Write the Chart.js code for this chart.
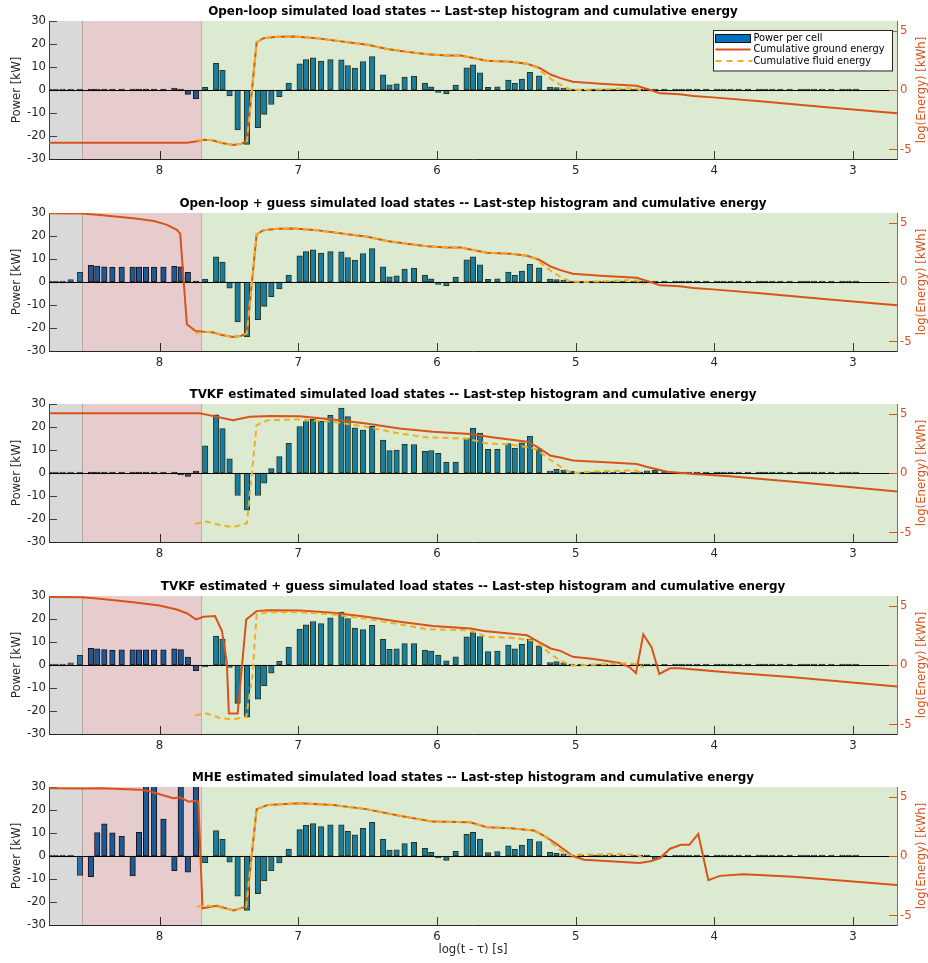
<!DOCTYPE html>
<html>
<head>
<meta charset="utf-8">
<script src="https://cdn.jsdelivr.net/npm/chart.js@4.4.1/dist/chart.umd.min.js"></script>
<style>
  html, body { margin: 0; padding: 0; background: #ffffff; }
  body { width: 928px; height: 963px; position: relative; overflow: hidden; }
  canvas { position: absolute; left: 0; }
</style>
</head>
<body>
<script>
// ---- axis settings -------------------------------------------------------
const timeRange = [2.683, 8.797];          // log10(t - tau), drawn decreasing to the right
const timeTicks = [3, 4, 5, 6, 7, 8];
const powerTicks = [-30, -20, -10, 0, 10, 20, 30];
const energyTicks = [-5, 0, 5];

// phases along the time axis: edges and fills
const phaseEdges = [8.797, 8.56, 7.70, 2.683];
const phaseFills = ['rgba(128,128,128,0.30)', 'rgba(130,0,0,0.20)', 'rgba(110,165,60,0.23)'];

// ---- cell centres (log10 of elapsed time) --------------------------------
const cellLogT = [
  8.796, 8.750, 8.699, 8.641, 8.574,
  8.495, 8.449, 8.398, 8.340, 8.273,
  8.194, 8.148, 8.097, 8.039, 7.972,
  7.893, 7.847, 7.796, 7.738, 7.671,
  7.592, 7.546, 7.495, 7.437, 7.370,
  7.291, 7.245, 7.194, 7.136, 7.069,
  6.990, 6.944, 6.893, 6.835, 6.768,
  6.689, 6.643, 6.592, 6.534, 6.467,
  6.388, 6.342, 6.291, 6.233, 6.166,
  6.087, 6.041, 5.990, 5.932, 5.865,
  5.786, 5.740, 5.689, 5.631, 5.564,
  5.485, 5.439, 5.388, 5.330, 5.263,
  5.184, 5.138, 5.087, 5.029, 4.962,
  4.883, 4.837, 4.786, 4.728, 4.661,
  4.582, 4.536, 4.485, 4.427, 4.360,
  4.281, 4.235, 4.184, 4.126, 4.059,
  3.980, 3.934, 3.883, 3.825, 3.758,
  3.679, 3.633, 3.582, 3.524, 3.457,
  3.378, 3.332, 3.281, 3.223, 3.156,
  3.077, 3.031, 2.980
];

// ---- power per cell [kW] --------------------------------------------------
const powerOpenLoop = [
  0, 0, 0, 0, 0,
  0, 0, 0, 0, 0,
  0, 0, 0, 0, 0,
  0.4, 0, -1.9, -3.9, 1.2,
  11.6, 8.6, -2.6, -17.4, -23.7,
  -16.4, -10.6, -6.3, -2.9, 3.0,
  11.4, 13.2, 14.0, 12.6, 13.2,
  13.1, 10.6, 9.5, 12.4, 14.5,
  6.6, 2.3, 2.7, 5.6, 6.1,
  3.0, 1.4, -1.0, -1.7, 2.1,
  9.6, 10.9, 7.5, 1.2, 1.4,
  4.3, 2.9, 4.8, 7.7, 6.2,
  1.3, 1.0, 0.7, 0, 0,
  0, 0, 0, 0, 0,
  0, 0, 0, 0, 0,
  0, 0, 0, 0, 0,
  0, 0, 0, 0, 0,
  0, 0, 0, 0, 0,
  0, 0, 0, 0, 0,
  0, 0, 0
];
const powerOpenLoopGuess = [
  0, 0, 0, 1.0, 4.2,
  7.2, 6.9, 6.6, 6.4, 6.5,
  6.5, 6.5, 6.5, 6.5, 6.5,
  6.8, 6.6, 4.2, 0, 1.3,
  10.9, 8.7, -2.7, -17.4, -23.8,
  -16.4, -10.6, -6.4, -3.0, 3.0,
  11.4, 13.2, 14.0, 12.6, 13.2,
  13.1, 10.6, 9.5, 12.4, 14.5,
  6.6, 2.3, 2.7, 5.6, 6.1,
  3.0, 1.4, -1.0, -1.7, 2.1,
  9.6, 10.9, 7.5, 1.2, 1.4,
  4.3, 2.9, 4.8, 7.7, 6.2,
  1.3, 1.0, 0.7, 0, 0,
  0, 0, 0, 0, 0,
  0, 0, 0, 0, 0,
  0, 0, 0, 0, 0,
  0, 0, 0, 0, 0,
  0, 0, 0, 0, 0,
  0, 0, 0, 0, 0,
  0, 0, 0
];
const powerTvkf = [
  0, 0, 0, 0, 0,
  0, 0, 0, 0, 0,
  0, 0, 0, 0, 0,
  0, -0.5, -1.5, 0.5, 11.8,
  25.3, 19.3, 6.2, -9.8, -16.2,
  -9.8, -4.4, 1.9, 7.1, 12.9,
  20.2, 22.4, 23.3, 22.6, 25.1,
  28.2, 24.5, 19.6, 18.7, 20.3,
  14.3, 9.7, 10.0, 12.5, 12.4,
  9.4, 9.8, 8.5, 4.6, 4.7,
  15.1, 19.5, 17.4, 10.3, 10.3,
  12.8, 10.8, 13.1, 16.1, 10.5,
  0.7, 1.6, 1.3, 0.3, 0,
  0, 0, 0, 0, 0,
  0, 0, 0.9, 1.2, 0.5,
  0, 0, 0, 0, 0,
  0, 0, 0, 0, 0,
  0, 0, 0, 0, 0,
  0, 0, 0, 0, 0,
  0, 0, 0
];
const powerTvkfGuess = [
  0, 0, 0, 0.9, 4.2,
  7.3, 7.0, 6.7, 6.4, 6.6,
  6.6, 6.6, 6.6, 6.6, 6.6,
  7.0, 6.7, 3.4, -2.5, -0.8,
  12.6, 11.3, -1.0, -16.7, -22.7,
  -14.9, -9.0, -3.5, 1.6, 7.8,
  15.6, 17.5, 18.9, 18.0, 20.5,
  23.0, 20.2, 16.0, 15.4, 17.3,
  11.2, 6.8, 7.0, 9.3, 9.3,
  6.5, 6.1, 4.3, 1.8, 3.6,
  12.3, 14.1, 12.4, 5.8, 6.1,
  8.7, 7.0, 9.0, 11.2, 8.3,
  1.0, 1.5, 0.9, 0, 0,
  0, 0, 0, 0, 0,
  0, 0, 0, 0, 0,
  0, 0, 0, 0, 0,
  0, 0, 0, 0, 0,
  0, 0, 0, 0, 0,
  0, 0, 0, 0, 0,
  0, 0, 0
];
const powerMhe = [
  0, 0, 0, 0, -8.4,
  -9.0, 10.2, 14.0, 10.1, 8.7,
  -8.7, 10.3, 31, 31, 16.0,
  -6.4, 31, -7.0, 31, -2.9,
  11.0, 7.3, -2.7, -17.5, -23.7,
  -16.4, -10.8, -6.4, -3.0, 3.0,
  11.5, 13.3, 14.1, 12.8, 13.5,
  13.5, 10.7, 9.2, 12.0, 14.6,
  7.2, 2.6, 2.7, 5.4, 5.9,
  3.3, 1.6, -0.8, -1.9, 2.0,
  9.4, 10.3, 7.4, 1.5, 1.9,
  4.4, 2.9, 4.8, 7.4, 6.3,
  1.6, 1.3, 0.9, 0, 0,
  0, 0, 0, 0, 0,
  0, 0, 0, -1.5, 0,
  0, 0, 0, 0, 0,
  0, 0, 0, 0, 0,
  0, 0, 0, 0, 0,
  0, 0, 0, 0, 0,
  0, 0, 0
];

// ---- cumulative energy, log(Energy) [kWh] as [logT, value] ----------------
const groundOpenLoop = [[8.797,-4.44],[7.80,-4.44],[7.74,-4.33],[7.68,-4.18],[7.62,-4.22],[7.55,-4.45],[7.47,-4.62],[7.41,-4.52],[7.37,-4.3],[7.30,4.0],[7.25,4.35],[7.15,4.47],[7.03,4.5],[6.87,4.36],[6.63,4.0],[6.50,3.8],[6.36,3.45],[6.22,3.22],[6.07,3.0],[5.93,2.9],[5.83,2.9],[5.64,2.45],[5.47,2.38],[5.35,2.2],[5.26,1.85],[5.18,1.3],[5.11,1.0],[5.02,0.7],[4.82,0.52],[4.56,0.35],[4.49,0.1],[4.39,-0.28],[4.25,-0.35],[4.15,-0.5],[4.01,-0.62],[3.67,-0.95],[3.19,-1.45],[2.683,-1.95]];
const fluidOpenLoop = [[7.73,-4.25],[7.68,-4.18],[7.62,-4.22],[7.55,-4.45],[7.47,-4.62],[7.41,-4.52],[7.37,-4.3],[7.30,4.0],[7.25,4.35],[7.15,4.47],[7.03,4.5],[6.87,4.36],[6.63,4.0],[6.50,3.8],[6.36,3.45],[6.22,3.22],[6.07,3.0],[5.93,2.9],[5.83,2.9],[5.64,2.45],[5.47,2.38],[5.35,2.2],[5.28,1.9],[5.24,1.5],[5.17,0.85],[5.11,0.45],[5.04,0.05],[4.97,0.0],[4.82,0.05],[4.63,0.15],[4.56,0.12],[4.51,-0.2]];

const groundOpenLoopGuess = [[8.797,5.77],[8.56,5.75],[8.43,5.63],[8.19,5.35],[8.04,5.13],[7.95,4.82],[7.875,4.39],[7.851,4.06],[7.803,-3.55],[7.743,-4.11],[7.68,-4.18],[7.62,-4.22],[7.55,-4.45],[7.47,-4.62],[7.41,-4.52],[7.37,-4.3],[7.30,4.0],[7.25,4.35],[7.15,4.47],[7.03,4.5],[6.87,4.36],[6.63,4.0],[6.50,3.8],[6.36,3.45],[6.22,3.22],[6.07,3.0],[5.93,2.9],[5.83,2.9],[5.64,2.45],[5.47,2.38],[5.35,2.2],[5.26,1.85],[5.18,1.3],[5.11,1.0],[5.02,0.7],[4.82,0.52],[4.56,0.35],[4.49,0.1],[4.39,-0.28],[4.25,-0.35],[4.15,-0.5],[4.01,-0.62],[3.67,-0.95],[3.19,-1.45],[2.683,-1.95]];
const fluidOpenLoopGuess = [[7.743,-4.34],[7.68,-4.18],[7.62,-4.22],[7.55,-4.45],[7.47,-4.62],[7.41,-4.52],[7.37,-4.3],[7.30,4.0],[7.25,4.35],[7.15,4.47],[7.03,4.5],[6.87,4.36],[6.63,4.0],[6.50,3.8],[6.36,3.45],[6.22,3.22],[6.07,3.0],[5.93,2.9],[5.83,2.9],[5.64,2.45],[5.47,2.38],[5.35,2.2],[5.28,1.9],[5.24,1.5],[5.17,0.85],[5.11,0.45],[5.04,0.05],[4.97,0.0],[4.82,0.05],[4.63,0.15],[4.56,0.12],[4.51,-0.2]];

const groundTvkf = [[8.797,5.03],[7.71,5.03],[7.61,4.78],[7.47,4.44],[7.35,4.72],[7.20,4.8],[6.99,4.78],[6.75,4.5],[6.51,4.16],[6.27,3.74],[6.03,3.46],[5.76,3.27],[5.59,2.99],[5.35,2.63],[5.28,2.21],[5.18,1.45],[5.11,1.31],[5.02,1.06],[4.75,0.89],[4.56,0.75],[4.49,0.53],[4.34,0.11],[4.15,-0.08],[3.91,-0.25],[3.43,-0.73],[2.683,-1.56]];
const fluidTvkf = [[7.743,-4.27],[7.66,-4.08],[7.57,-4.36],[7.47,-4.55],[7.37,-4.22],[7.30,4.02],[7.22,4.44],[6.99,4.5],[6.75,4.3],[6.51,3.88],[6.27,3.32],[6.07,2.99],[5.79,2.9],[5.64,2.49],[5.47,2.4],[5.30,2.07],[5.26,1.79],[5.18,1.09],[5.11,0.53],[5.02,-0.03],[4.87,0.14],[4.63,0.2],[4.56,0.2],[4.51,-0.17]];

const groundTvkfGuess = [[8.797,5.72],[8.56,5.69],[8.43,5.56],[8.19,5.28],[8.00,5.0],[7.875,4.67],[7.80,4.33],[7.738,3.83],[7.683,4.06],[7.60,4.11],[7.55,2.86],[7.515,0.22],[7.50,-4.08],[7.437,-4.08],[7.375,3.83],[7.30,4.53],[7.22,4.61],[6.99,4.58],[6.75,4.39],[6.51,4.06],[6.27,3.64],[6.03,3.28],[5.76,3.06],[5.66,2.86],[5.35,2.5],[5.28,2.03],[5.18,1.39],[5.11,1.19],[5.02,0.69],[4.87,0.5],[4.68,0.17],[4.61,-0.19],[4.565,-0.67],[4.512,2.58],[4.452,1.47],[4.397,-0.75],[4.32,-0.28],[4.25,-0.28],[3.91,-0.61],[3.43,-1.03],[2.683,-1.81]];
const fluidTvkfGuess = [[7.743,-4.22],[7.66,-4.08],[7.57,-4.44],[7.47,-4.58],[7.375,-4.36],[7.33,-0.9],[7.30,4.25],[7.22,4.44],[6.99,4.44],[6.75,4.25],[6.51,3.89],[6.27,3.42],[6.07,3.0],[5.76,2.92],[5.64,2.36],[5.47,2.3],[5.30,2.03],[5.26,1.75],[5.18,0.92],[5.11,0.36],[5.02,-0.06],[4.87,0.03],[4.63,0.14],[4.56,0.08],[4.51,-0.19]];

const groundMhe = [[8.797,5.69],[8.56,5.67],[8.43,5.69],[8.14,5.56],[8.08,5.47],[8.00,5.19],[7.90,4.86],[7.85,4.92],[7.79,4.56],[7.743,4.64],[7.72,4.56],[7.69,-4.39],[7.587,-4.19],[7.466,-4.58],[7.375,-4.25],[7.30,3.94],[7.22,4.28],[6.99,4.44],[6.75,4.28],[6.51,3.94],[6.27,3.39],[6.03,2.89],[5.76,2.83],[5.64,2.42],[5.47,2.33],[5.30,2.14],[5.23,1.72],[5.14,1.03],[5.02,0],[4.94,-0.31],[4.75,-0.44],[4.54,-0.58],[4.46,-0.44],[4.39,-0.17],[4.32,0.61],[4.24,0.94],[4.18,0.94],[4.116,1.86],[4.043,-2.03],[3.96,-1.67],[3.79,-1.53],[3.43,-1.75],[2.683,-2.44]];
const fluidMhe = [[7.731,-4.25],[7.66,-4.17],[7.587,-4.25],[7.466,-4.58],[7.375,-4.25],[7.30,3.94],[7.22,4.28],[6.99,4.44],[6.75,4.28],[6.51,3.94],[6.27,3.39],[6.03,2.89],[5.76,2.83],[5.64,2.42],[5.47,2.33],[5.30,2.14],[5.23,1.72],[5.11,0.47],[5.04,0.06],[4.97,0.11],[4.75,0.17],[4.56,0.11],[4.51,-0.17]];

// ---- panels ----------------------------------------------------------------
const panels = [
  { top: 0,   height: 183, title: 'Open-loop simulated load states -- Last-step histogram and cumulative energy',
    power: powerOpenLoop, ground: groundOpenLoop, fluid: fluidOpenLoop, legend: true },
  { top: 192, height: 183, title: 'Open-loop + guess simulated load states -- Last-step histogram and cumulative energy',
    power: powerOpenLoopGuess, ground: groundOpenLoopGuess, fluid: fluidOpenLoopGuess },
  { top: 383, height: 183, title: 'TVKF estimated simulated load states -- Last-step histogram and cumulative energy',
    power: powerTvkf, ground: groundTvkf, fluid: fluidTvkf },
  { top: 575, height: 183, title: 'TVKF estimated + guess simulated load states -- Last-step histogram and cumulative energy',
    power: powerTvkfGuess, ground: groundTvkfGuess, fluid: fluidTvkfGuess },
  { top: 766, height: 197, title: 'MHE estimated simulated load states -- Last-step histogram and cumulative energy',
    power: powerMhe, ground: groundMhe, fluid: fluidMhe, xTitle: 'log(t - \u03c4) [s]' }
];

const AXIS = '#262626';
const GROUND = '#D95319';
const FLUID = '#EDB120';
const BAR = '#0072BD';
const FONT = "'DejaVu Sans', sans-serif";
const AREA_TOP = 21;
const AREA_H = 138;

Chart.defaults.font.family = FONT;
Chart.defaults.font.size = 11.7;
Chart.defaults.color = AXIS;

// draws phase shading, inward ticks, baseline, titles and the legend
function decorations(p) {
  return {
    id: 'decorations',
    afterDatasetDraw(chart, args) {
      if (args.meta.type !== 'bar') return;
      const { ctx, chartArea: a } = chart;
      const x = chart.scales.x, y = chart.scales.yP;
      ctx.save();
      // inward tick marks
      ctx.strokeStyle = AXIS;
      ctx.lineWidth = 1;
      ctx.beginPath();
      timeTicks.forEach(v => {
        const px = Math.round(x.getPixelForValue(v)) + 0.5;
        ctx.moveTo(px, a.bottom); ctx.lineTo(px, a.bottom - 8);
      });
      powerTicks.forEach(v => {
        const py = Math.round(y.getPixelForValue(v)) + 0.5;
        ctx.moveTo(a.left, py); ctx.lineTo(a.left + 8, py);
      });
      ctx.stroke();
      // phase shading
      for (let i = 0; i < phaseFills.length; i++) {
        const x0 = x.getPixelForValue(phaseEdges[i]);
        const x1 = x.getPixelForValue(phaseEdges[i + 1]);
        ctx.fillStyle = phaseFills[i];
        ctx.fillRect(x0, a.top, x1 - x0, a.bottom - a.top);
      }
      ctx.strokeStyle = 'rgba(90,90,90,0.35)';
      ctx.beginPath();
      [phaseEdges[1], phaseEdges[2]].forEach(v => {
        const px = Math.round(x.getPixelForValue(v)) + 0.5;
        ctx.moveTo(px, a.top); ctx.lineTo(px, a.bottom);
      });
      ctx.stroke();
      // zero baseline
      const y0 = Math.round(y.getPixelForValue(0)) + 0.5;
      ctx.strokeStyle = '#000';
      ctx.beginPath();
      ctx.moveTo(a.left, y0); ctx.lineTo(a.right, y0);
      ctx.stroke();
      ctx.restore();
    },
    afterDraw(chart) {
      const { ctx, chartArea: a } = chart;
      const yE = chart.scales.yE;
      ctx.save();
      // right-axis ticks
      ctx.strokeStyle = GROUND;
      ctx.lineWidth = 1;
      ctx.beginPath();
      energyTicks.forEach(v => {
        const py = Math.round(yE.getPixelForValue(v)) + 0.5;
        ctx.moveTo(a.right, py); ctx.lineTo(a.right - 8, py);
      });
      ctx.stroke();
      // right-axis title, reading upwards
      ctx.save();
      ctx.translate(921.5, (a.top + a.bottom) / 2);
      ctx.rotate(-Math.PI / 2);
      ctx.font = '11.7px ' + FONT;
      ctx.fillStyle = GROUND;
      ctx.textAlign = 'center';
      ctx.textBaseline = 'middle';
      ctx.fillText('log(Energy) [kWh]', 0, 0);
      ctx.restore();
      // panel title
      ctx.font = 'bold 11.9px ' + FONT;
      ctx.fillStyle = '#000';
      ctx.textAlign = 'center';
      ctx.textBaseline = 'middle';
      ctx.fillText(p.title, (a.left + a.right) / 2, a.top - 9.5);
      // legend
      if (p.legend) {
        const w = 179, h = 40.5;
        const lx = a.right - 5 - w, ly = a.top + 9;
        ctx.fillStyle = '#fff';
        ctx.fillRect(lx, ly, w, h);
        ctx.strokeStyle = AXIS;
        ctx.lineWidth = 1;
        ctx.strokeRect(Math.round(lx) + 0.5, Math.round(ly) + 0.5, w, h);
        const sx0 = lx + 2.5, sx1 = lx + 37.5, tx = lx + 40.5;
        const rows = [ly + 8.5, ly + 19.5, ly + 31];
        ctx.fillStyle = BAR;
        ctx.fillRect(sx0, rows[0] - 4, sx1 - sx0, 8);
        ctx.strokeStyle = '#111';
        ctx.strokeRect(sx0, rows[0] - 4, sx1 - sx0, 8);
        ctx.lineWidth = 2;
        ctx.strokeStyle = GROUND;
        ctx.beginPath(); ctx.moveTo(sx0, rows[1]); ctx.lineTo(sx1, rows[1]); ctx.stroke();
        ctx.strokeStyle = FLUID;
        ctx.setLineDash([6, 5]);
        ctx.beginPath(); ctx.moveTo(sx0, rows[2]); ctx.lineTo(sx1 + 2, rows[2]); ctx.stroke();
        ctx.setLineDash([]);
        ctx.font = '9.8px ' + FONT;
        ctx.fillStyle = '#000';
        ctx.textAlign = 'left';
        ctx.textBaseline = 'middle';
        ctx.fillText('Power per cell', tx, rows[0]);
        ctx.fillText('Cumulative ground energy', tx, rows[1]);
        ctx.fillText('Cumulative fluid energy', tx, rows[2]);
      }
      ctx.restore();
    }
  };
}

function buildPanel(p) {
  const canvas = document.createElement('canvas');
  canvas.width = 928;
  canvas.height = p.height;
  canvas.style.top = p.top + 'px';
  document.body.appendChild(canvas);
  const toXY = arr => arr.map(([x, y]) => ({ x, y }));

  new Chart(canvas, {
    type: 'bar',
    data: {
      datasets: [
        { type: 'line', label: 'Cumulative fluid energy', data: toXY(p.fluid), yAxisID: 'yE',
          borderColor: FLUID, borderWidth: 2, borderDash: [6, 4], pointRadius: 0, tension: 0,
          fill: false, order: 0 },
        { type: 'line', label: 'Cumulative ground energy', data: toXY(p.ground), yAxisID: 'yE',
          borderColor: GROUND, borderWidth: 2, pointRadius: 0, tension: 0, fill: false, order: 1 },
        { type: 'bar', label: 'Power per cell', data: cellLogT.map((x, i) => ({ x, y: p.power[i] })),
          yAxisID: 'yP', backgroundColor: BAR, borderColor: '#111', borderWidth: 1,
          borderSkipped: false, barThickness: 5.5, minBarLength: 2, order: 2 }
      ]
    },
    options: {
      responsive: false,
      animation: false,
      devicePixelRatio: 1,
      layout: { padding: { top: AREA_TOP, left: 0, right: 0, bottom: 0 } },
      plugins: { legend: { display: false }, tooltip: { enabled: false } },
      scales: {
        x: {
          type: 'linear', reverse: true, min: timeRange[0], max: timeRange[1], offset: false,
          grid: { display: false, drawTicks: false },
          border: { display: true, color: AXIS, width: 1 },
          ticks: { padding: 5, color: AXIS, callback: v => String(v) },
          afterBuildTicks: s => { s.ticks = timeTicks.map(v => ({ value: v })); },
          afterFit: s => { s.height = p.height - AREA_TOP - AREA_H; },
          title: { display: !!p.xTitle, text: p.xTitle || '', color: AXIS,
                   padding: { top: 0, bottom: 6 } }
        },
        yP: {
          position: 'left', min: -30, max: 30,
          grid: { display: false, drawTicks: false },
          border: { display: true, color: AXIS, width: 1 },
          ticks: { padding: 3, color: AXIS, callback: v => String(v) },
          afterBuildTicks: s => { s.ticks = powerTicks.map(v => ({ value: v })); },
          afterFit: s => { s.width = 49; },
          title: { display: true, text: 'Power [kW]', color: AXIS, padding: { top: 10, bottom: 0 } }
        },
        yE: {
          position: 'right', min: -5.8, max: 5.8,
          grid: { display: false, drawTicks: false },
          border: { display: true, color: GROUND, width: 1 },
          ticks: { padding: 3, color: GROUND, callback: v => String(v) },
          afterBuildTicks: s => { s.ticks = energyTicks.map(v => ({ value: v })); },
          afterFit: s => { s.width = 31; }
        }
      }
    },
    plugins: [decorations(p)]
  });
}

panels.forEach(buildPanel);
</script>
</body>
</html>
